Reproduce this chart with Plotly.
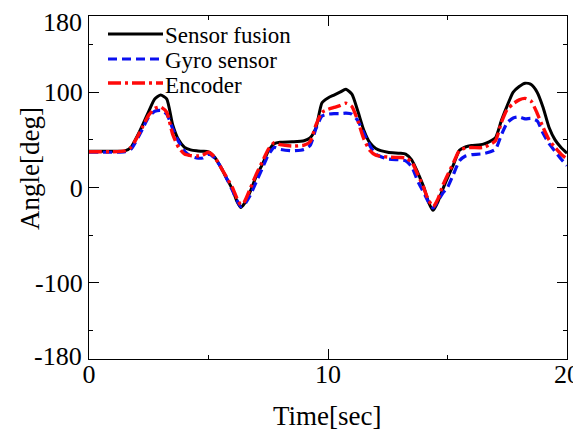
import plotly.graph_objects as go

time_s = [0, 0.5, 1.0, 1.5, 1.75, 2.0, 2.25, 2.5, 2.75, 3.0, 3.25, 3.5, 3.75, 4.0, 4.25, 4.5, 4.75,
          5.0, 5.25, 5.5, 5.75, 6.0, 6.2, 6.35, 6.5, 6.75, 7.0, 7.25, 7.5, 7.75, 8.0, 8.5, 9.0,
          9.25, 9.5, 9.75, 10.0, 10.25, 10.5, 10.75, 11.0, 11.25, 11.5, 11.75, 12.0, 12.5, 13.0,
          13.25, 13.5, 13.75, 14.0, 14.2, 14.4, 14.6, 14.8, 15.0, 15.25, 15.5, 15.75, 16.0, 16.5,
          17.0, 17.25, 17.5, 17.75, 18.0, 18.25, 18.5, 18.75, 19.0, 19.25, 19.5, 19.75, 20.0]

sensor_fusion = [38, 38, 38, 38.5, 42, 53, 66, 80, 93, 97, 93, 66, 50, 42, 39.5, 38.5, 38,
                 37.5, 32, 22, 10, -2, -15, -21, -17, -4, 12, 24, 38, 46, 47.5, 48, 49,
                 52, 63, 89, 94, 97, 100, 103, 98, 80, 60, 47, 41, 37, 36,
                 35, 29, 16, 1, -15, -24, -15, -2, 10, 24, 39, 42.5, 44, 45.5,
                 52, 70, 86, 100, 106, 109.5, 108, 100, 84, 63, 50, 42, 36]

gyro_sensor = [37, 37, 37, 37.5, 40, 50, 62, 74, 80, 81, 77, 62, 48, 38, 33, 31, 31,
               35, 31, 22, 10, -3, -14, -20, -18, -8, 6, 20, 34, 42, 40, 38.5, 40,
               44, 62, 75, 77, 77.5, 77.5, 78, 77, 70, 57, 44, 35, 30, 29,
               28, 22, 7, -5, -15, -21.5, -14, -6, 0, 14, 28, 33, 34.5, 35.5,
               40, 55, 68, 73, 74, 72, 72.5, 70, 57, 46, 38, 30, 23]

encoder = [37.5, 37.5, 37.5, 38.5, 42, 52, 64, 76, 83, 84.5, 79, 56, 42, 35, 33.5, 33, 34,
           37, 32, 22, 11, 0, -12, -18, -15, -1, 14, 27, 40, 47, 45, 43.5, 44.5,
           48, 66, 79, 82, 84, 86, 88.5, 85, 70, 51, 39, 34, 32, 31.5,
           31, 27, 14, 0, -13, -20, -12, 2, 13, 26, 39, 41.5, 42, 42,
           49, 68, 82, 88, 92, 93.5, 90.5, 78, 63, 50, 42, 35, 30]

series_names = ["Sensor fusion", "Gyro sensor", "Encoder"]
x_tick_vals = [0, 10, 20]
x_minor_vals = [5, 15]
y_tick_vals = [-180, -100, 0, 100, 180]
y_tick_text = ["", "-100", "0", "100", ""]
y_end_vals = [180, -180]
y_end_text = ["180", "-180"]
y_minor_vals = [-150, -50, 50, 150]

FONT = "Liberation Serif"
OFF = 8  # page body margin offset
W, H = 581 - OFF, 435 - OFF
ML, MR, MT, MB = 89 - OFF, 14, 16 - OFF, 76
PW, PH = W - ML - MR, H - MT - MB


def px_x(p):
    # p in screen pixels
    return (p - OFF - ML) / PW


def px_y(p):
    return (H - MB - (p - OFF)) / PH


styles = [
    dict(color="black", width=3),
    dict(color="#0a10f0", width=3.2, dash="9px,5px"),
    dict(color="#ff0a0a", width=3.4, dash="13px,4px,3px,4px"),
]
series_values = [sensor_fusion, gyro_sensor, encoder]

fig = go.Figure()
for name, vals, st in zip(series_names, series_values, styles):
    fig.add_trace(go.Scatter(x=time_s, y=vals, name=name, mode="lines",
                             line=dict(shape="spline", smoothing=0.6, **st)))

axis_common = dict(showline=True, linecolor="black", linewidth=1.3, mirror="ticks",
                   ticks="inside", tickcolor="black", tickwidth=1.2, ticklen=10,
                   showgrid=False, zeroline=False, automargin=False,
                   ticklabeloverflow="allow",
                   tickfont=dict(family=FONT, size=26, color="black"))

fig.update_xaxes(range=[0, 20], tickmode="array", tickvals=x_tick_vals,
                 ticklabelstandoff=-8,
                 minor=dict(tickmode="array", tickvals=x_minor_vals, ticklen=4, ticks="inside",
                            tickcolor="black", tickwidth=1.2, showgrid=False),
                 **axis_common)
fig.update_yaxes(range=[-180, 180], tickmode="array", tickvals=y_tick_vals, ticktext=y_tick_text,
                 minor=dict(tickmode="array", tickvals=y_minor_vals, ticklen=4, ticks="inside",
                            tickcolor="black", tickwidth=1.2, showgrid=False),
                 **axis_common)

# end labels of the y axis, nudged inward as in the reference
for val, txt, shift in zip(y_end_vals, y_end_text, [-6, 3]):
    fig.add_annotation(text=txt, xref="paper", yref="y", x=px_x(84), y=val, yshift=shift,
                       xanchor="right", yanchor="middle", showarrow=False,
                       font=dict(family=FONT, size=26, color="black"))

fig.add_annotation(text="Time[sec]", xref="paper", yref="paper", x=px_x(327), y=px_y(416),
                   xanchor="center", yanchor="middle", showarrow=False,
                   font=dict(family=FONT, size=27, color="black"))
fig.add_annotation(text="Angle[deg]", xref="paper", yref="paper", x=px_x(30), y=px_y(169),
                   xanchor="center", yanchor="middle", showarrow=False, textangle=-90,
                   font=dict(family=FONT, size=27, color="black"))

# legend drawn as line samples + labels
legend_line_y = [34, 59, 83]
legend_text_y = [36, 61, 85]
for name, st, ly, ty in zip(series_names, styles, legend_line_y, legend_text_y):
    ld = dict(color=st["color"], width=st["width"])
    if "dash" in st:
        ld["dash"] = st["dash"]
    fig.add_shape(type="line", xref="paper", yref="paper",
                  x0=px_x(108), x1=px_x(163), y0=px_y(ly), y1=px_y(ly), line=ld)
    fig.add_annotation(text=name, xref="paper", yref="paper", x=px_x(163), y=px_y(ty),
                       xanchor="left", yanchor="middle", showarrow=False,
                       font=dict(family=FONT, size=23, color="black"))

fig.update_layout(
    width=W, height=H,
    margin=dict(l=ML, r=MR, t=MT, b=MB, autoexpand=False),
    paper_bgcolor="white", plot_bgcolor="white",
    showlegend=False,
)

fig.write_html("out.html")
